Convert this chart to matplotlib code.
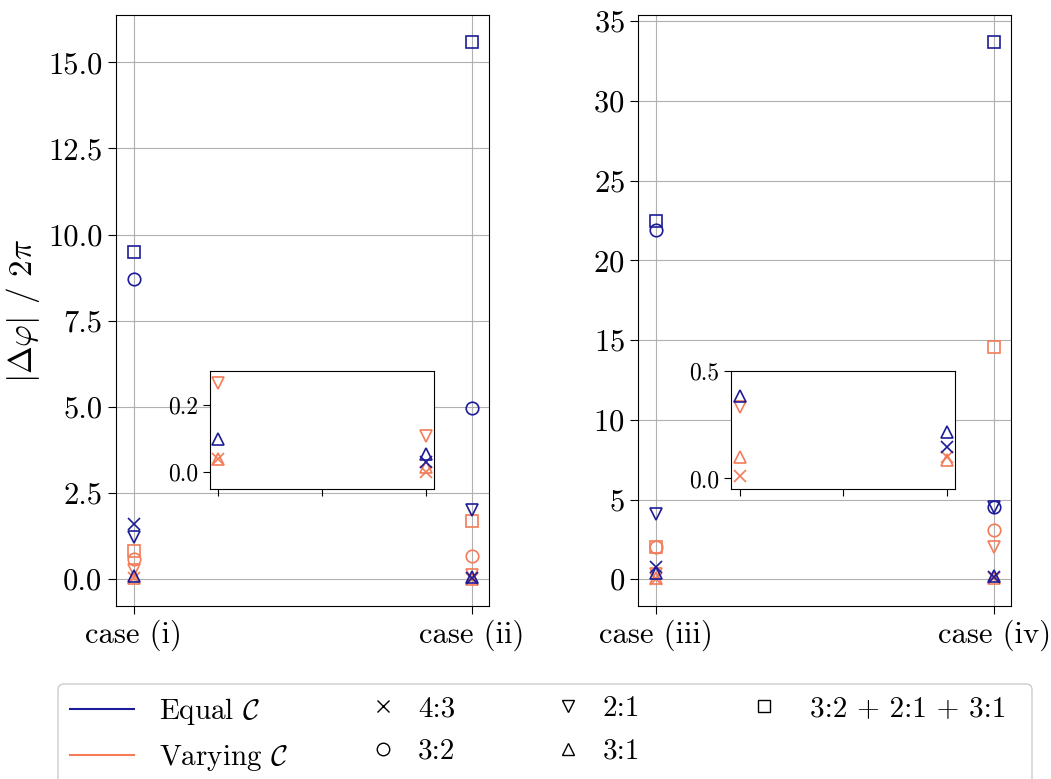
import matplotlib
matplotlib.use("Agg")
import matplotlib.pyplot as plt
from matplotlib.lines import Line2D
from matplotlib.patches import FancyBboxPatch
from matplotlib.transforms import IdentityTransform

plt.rcParams['font.family'] = ['cmr10', 'DejaVu Serif']
plt.rcParams['mathtext.fontset'] = 'cm'
plt.rcParams['axes.unicode_minus'] = False
plt.rcParams['axes.formatter.use_mathtext'] = True

BLUE = '#1c1c98'
ORANGE = '#f47c58'

markers = ['x', 'o', 'v', '^', 's']
marker_labels = ['4:3', '3:2', '2:1', '3:1', '3:2 + 2:1 + 3:1']

# left panel: case (i), case (ii)
left_cases = ['case (i)', 'case (ii)']
left_equal = {  # marker -> [case i, case ii]
    'x': [1.60, 0.03],
    'o': [8.70, 4.97],
    'v': [1.23, 2.00],
    '^': [0.10, 0.055],
    's': [9.50, 15.60],
}
left_varying = {
    'x': [0.04, 0.002],
    'o': [0.60, 0.66],
    'v': [0.265, 0.108],
    '^': [0.04, 0.015],
    's': [0.82, 1.70],
}

# right panel: case (iii), case (iv)
right_cases = ['case (iii)', 'case (iv)']
right_equal = {
    'x': [0.80, 0.145],
    'o': [21.90, 4.55],
    'v': [4.10, 4.55],
    '^': [0.385, 0.215],
    's': [22.45, 33.70],
}
right_varying = {
    'x': [0.01, 0.10],
    'o': [2.00, 3.10],
    'v': [0.335, 2.00],
    '^': [0.10, 0.085],
    's': [2.05, 14.55],
}

fig = plt.figure(figsize=(10.51, 7.79), dpi=100)

ax_l = fig.add_axes([0.110, 0.222, 0.355, 0.759])
ax_r = fig.add_axes([0.607, 0.222, 0.355, 0.759])
in_l = fig.add_axes([0.200, 0.372, 0.213, 0.1515])
in_r = fig.add_axes([0.696, 0.372, 0.213, 0.1515])

MS = 9
MEW = 1.2


def draw(ax, eq, var, ms=MS):
    xs = [0, 1]
    for m in markers:
        ax.plot(xs, var[m], linestyle='none', marker=m, markersize=ms,
                markerfacecolor='none', markeredgecolor=ORANGE, markeredgewidth=MEW, zorder=3)
    for m in markers:
        ax.plot(xs, eq[m], linestyle='none', marker=m, markersize=ms,
                markerfacecolor='none', markeredgecolor=BLUE, markeredgewidth=MEW, zorder=3)


for ax, eq, var, cases in [(ax_l, left_equal, left_varying, left_cases),
                           (ax_r, right_equal, right_varying, right_cases)]:
    draw(ax, eq, var)
    ax.set_xlim(-0.053, 1.05)
    ax.set_xticks([0, 1])
    ax.set_xticklabels(cases)
    ax.grid(True, color='#b0b0b0', linewidth=0.8)
    ax.set_axisbelow(True)
    ax.tick_params(labelsize=22, length=6)

ax_l.set_yticks([0, 2.5, 5, 7.5, 10, 12.5, 15])
ax_l.set_yticklabels(['0.0', '2.5', '5.0', '7.5', '10.0', '12.5', '15.0'])
ax_l.set_ylim(-0.78, 16.38)
ax_r.set_yticks([0, 5, 10, 15, 20, 25, 30, 35])
ax_r.set_ylim(-1.68, 35.4)

ax_l.set_ylabel(r'$|\Delta\varphi|$ / $2\pi$', fontsize=24)

for ax, eq, var, ylim, yt, ytl in [
        (in_l, left_equal, left_varying, (-0.05, 0.3), [0.0, 0.2], ['0.0', '0.2']),
        (in_r, right_equal, right_varying, (-0.05, 0.5), [0.0, 0.5], ['0.0', '0.5'])]:
    draw(ax, eq, var)
    ax.set_xlim(-0.04, 1.04)
    ax.set_ylim(*ylim)
    ax.set_xticks([0, 0.5, 1])
    ax.set_xticklabels([])
    ax.set_yticks(yt)
    ax.set_yticklabels(ytl)
    ax.tick_params(labelsize=17, length=5)
    ax.set_facecolor('white')

# legend frame (drawn manually, shared by the legends)
frame = FancyBboxPatch((58, -20), 974, 779 - 684 + 20,
                       boxstyle='round,pad=0,rounding_size=6',
                       transform=IdentityTransform(), facecolor='white',
                       edgecolor='#cccccc', linewidth=1.0, zorder=5)
fig.patches.append(frame)

line_handles = [
    Line2D([], [], color=BLUE, lw=1.5, label=r'Equal $\mathcal{C}$'),
    Line2D([], [], color=ORANGE, lw=1.5, label=r'Varying $\mathcal{C}$'),
]
marker_handles = []
for m, lab in zip(markers, marker_labels):
    marker_handles.append(Line2D([], [], linestyle='none', marker=m, markersize=MS,
                                 markerfacecolor='none', markeredgecolor='black',
                                 markeredgewidth=1.0, label=lab))

FS = 21
TOP = 0.1065
LS = 0.55
legA = fig.legend(handles=line_handles, ncol=1, loc='upper left',
                  bbox_to_anchor=(0.0666, TOP), fontsize=FS, frameon=False,
                  handlelength=2.2, handletextpad=0.85, labelspacing=LS,
                  borderpad=0.0, borderaxespad=0.0)
legA.set_zorder(6)
legB = fig.legend(handles=marker_handles[:4], ncol=2, loc='upper left',
                  bbox_to_anchor=(0.3505, TOP), fontsize=FS, frameon=False,
                  handlelength=1.0, handletextpad=0.7, labelspacing=LS,
                  columnspacing=3.35, borderpad=0.0, borderaxespad=0.0)
legB.set_zorder(6)
legC = fig.legend(handles=marker_handles[4:], ncol=1, loc='upper left',
                  bbox_to_anchor=(0.7135, TOP), fontsize=FS, frameon=False,
                  handlelength=1.0, handletextpad=1.05, labelspacing=LS,
                  borderpad=0.0, borderaxespad=0.0)
legC.set_zorder(6)

fig.savefig('out.png', dpi=100)
